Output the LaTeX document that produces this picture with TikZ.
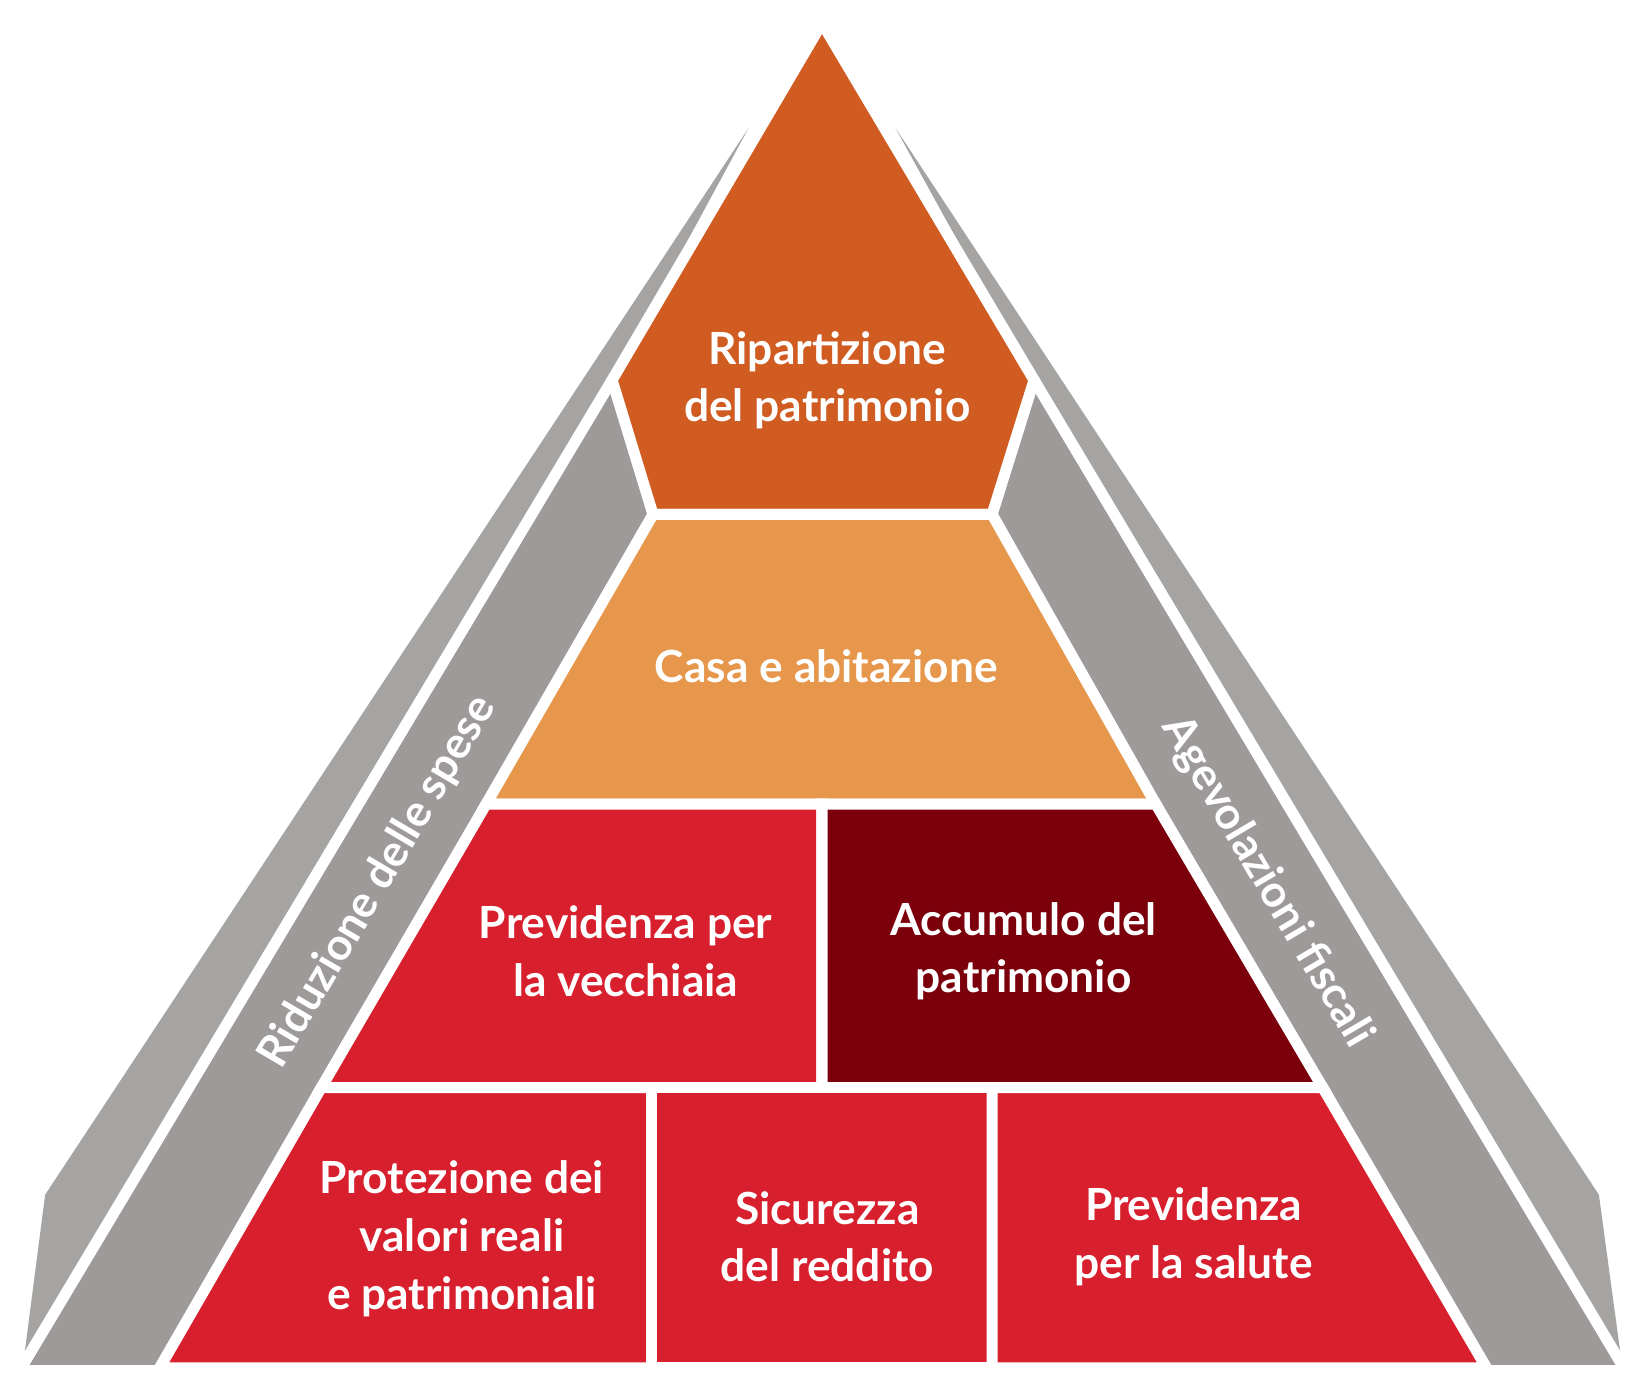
\documentclass[tikz,border=0pt]{standalone}
\usepackage{fontspec}
\setmainfont{Lato}
\definecolor{corange}{HTML}{D05C22}
\definecolor{clight}{HTML}{E6974C}
\definecolor{cred}{HTML}{D81F2D}
\definecolor{cdark}{HTML}{7B000C}
\definecolor{cgin}{HTML}{9E9A99}
\definecolor{cgout}{HTML}{A5A4A3}
\begin{document}
\begin{tikzpicture}[x=0.01cm,y=-0.01cm,
  blk/.style={draw=white,line width=3pt,line join=miter},
  lbl/.style={text=white,font=\bfseries\fontsize{12}{15.6}\selectfont,align=center}]
\useasboundingbox (0,0) rectangle (1565,1320);
% gray bands
\fill[cgout] (713,122) -- (43,1138) -- (22,1300) -- (583,362) -- cycle;
\fill[cgin] (583,362) -- (22,1300) -- (153,1300) -- (622,490) -- cycle;
\fill[cgout] (853,122) -- (1523,1138) -- (1545,1300) -- (985,362) -- cycle;
\fill[cgin] (985,362) -- (1545,1300) -- (1415,1300) -- (945,490) -- cycle;
\draw[white,line width=3pt] (583,362) -- (22,1300);
\draw[white,line width=3pt] (985,362) -- (1545,1300);
% pyramid
\filldraw[blk,fill=corange] (783,22) -- (985,362) -- (945,490) -- (622,490) -- (583,362) -- cycle;
\filldraw[blk,fill=clight] (622,490) -- (945,490) -- (1101,766) -- (463,766) -- cycle;
\filldraw[blk,fill=cred] (463,766) -- (783,766) -- (783,1036) -- (306,1036) -- cycle;
\filldraw[blk,fill=cdark] (783,766) -- (1101,766) -- (1260,1036) -- (783,1036) -- cycle;
\filldraw[blk,fill=cred] (306,1036) -- (621,1036) -- (621,1303) -- (152,1303) -- cycle;
\filldraw[blk,fill=cred] (621,1036) -- (945,1036) -- (945,1303) -- (621,1303) -- cycle;
\filldraw[blk,fill=cred] (945,1036) -- (1260,1036) -- (1416,1303) -- (945,1303) -- cycle;
\fill[white] (0,1302) rectangle (1565,1320);
% labels
\node[lbl] (t1) at (788,362) {Ripartizione\\del patrimonio};
\node[lbl] (t2) at (787,635) {Casa e abitazione};
\node[lbl] (t3) at (596,906) {Previdenza per\\la vecchiaia};
\node[lbl] (t4) at (975,906) {Accumulo del\\patrimonio};
\node[lbl] (t5) at (440,1180) {Protezione dei\\valori reali\\e patrimoniali};
\node[lbl] (t6) at (788,1178) {Sicurezza\\del reddito};
\node[lbl] (t7) at (1137,1178) {Previdenza\\per la salute};
\node[lbl,rotate=59.5] (t8) at (360,840) {Riduzione delle spese};
\node[lbl,rotate=-59.5] (t9) at (1207,840) {Agevolazioni fiscali};
\end{tikzpicture}
\end{document}
